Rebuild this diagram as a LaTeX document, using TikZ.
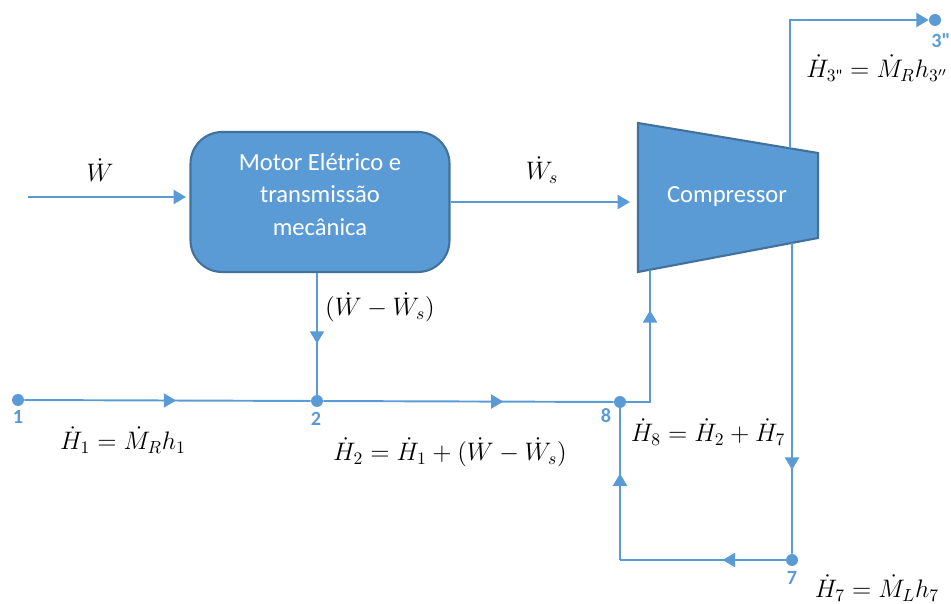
\documentclass[tikz,border=0pt]{standalone}
\usepackage{amsmath}
\usepackage{fontspec}
\setsansfont{Carlito}
\usetikzlibrary{arrows.meta, calc, decorations.markings}

\definecolor{flowblue}{HTML}{5B9BD5}
\definecolor{edgeblue}{HTML}{41719C}

\tikzset{
  flow/.style={flowblue, line width=1.1pt},
  midtip/.style={postaction={decorate}, decoration={markings,
      mark=at position #1 with {\arrow{Triangle[width=8pt,length=7pt]}}}},
  state/.style={circle, fill=flowblue, inner sep=0pt, minimum size=2.4mm},
  statelbl/.style={text=flowblue, font=\sffamily\bfseries\fontsize{11.5}{13}\selectfont},
  eqlbl/.style={font=\fontsize{13.6}{16}\selectfont},
  unit/.style={fill=flowblue, draw=edgeblue, line width=1.2pt},
  unittext/.style={text=white, align=center, font=\sffamily\fontsize{14}{18.5}\selectfont},
}

\begin{document}
\begin{tikzpicture}[x=0.02cm, y=-0.02cm, >={Triangle[width=8pt,length=7pt]}]
    \useasboundingbox (0,0) rectangle (951,604);

    % motor and compressor
    \node[unit, unittext, rounded corners=18pt, minimum width=5.18cm, minimum height=2.8cm, text depth=0.32cm] (motor) at (320,202) {Motor Elétrico e\\transmissão\\mecânica};
    \coordinate (c1) at (638,123);
    \coordinate (c2) at (818,153);
    \coordinate (c3) at (818,238);
    \coordinate (c4) at (638,272);
    \filldraw[unit] (c1) -- (c2) -- (c3) -- (c4) -- cycle;
    \node[unittext] (comp) at (727,197) {Compressor};

    % state points
    \node[state] (p1) at (18,400) {};
    \node[state] (p2) at (317,401) {};
    \node[state] (p8) at (620,402) {};
    \node[state] (p7) at (792,560) {};
    \node[state] (p3) at (935,20) {};
    \node[statelbl] (n1) at (18,417) {1};
    \node[statelbl] (n2) at (316,419) {2};
    \node[statelbl] (n8) at (606,416) {8};
    \node[statelbl] (n7) at (792,578) {7};
    \node[statelbl] (n3) at (941,41) {3\textquotedbl};

    \coordinate (win) at (28,197);
    \coordinate (wsend) at (630,202);
    \coordinate (outtop) at ($(c1)!0.844!(c2)$);
    \coordinate (outcorner) at (outtop |- p3);
    \coordinate (retbot) at ($(c4)!0.856!(c3)$);
    \coordinate (inbot) at ($(c4)!0.067!(c3)$);
    \coordinate (k8) at (inbot |- p8);
    \coordinate (k7) at (p8 |- p7);
    \coordinate (mbot) at (p2 |- motor.south);

    % power
    \draw[flow, ->, shorten >=2pt] (win) -- (motor.west |- win);
    \draw[flow, ->] (motor.east) -- (wsend);
    \draw[flow, midtip=0.58] (mbot) -- (p2);

    % refrigerant
    \draw[flow, midtip=0.53] (p1) -- (p2);
    \draw[flow, midtip=0.62] (p2) -- (p8);
    \draw[flow, midtip=0.74] (p8) -- (k8) -- (inbot);
    \draw[flow, ->] (outtop) -- (outcorner) -- (p3);
    \draw[flow, midtip=0.73] (retbot) -- (p7);
    \draw[flow, midtip=0.38] (p7) -- (k7);
    \draw[flow, midtip=0.57] (k7) -- (p8);

    % balances
    \node[eqlbl] (lw) at (100,170) {$\dot{W}$};
    \node[eqlbl] (lws) at (542,170) {$\dot{W}_s$};
    \node[eqlbl] (ldiff) at (380,307) {$(\dot{W} - \dot{W}_s)$};
    \node[eqlbl] (lh1) at (123,440) {$\dot{H}_1 = \dot{M}_R h_1$};
    \node[eqlbl] (lh2) at (450,452) {$\dot{H}_2 = \dot{H}_1 + (\dot{W} - \dot{W}_s)$};
    \node[eqlbl] (lh8) at (708,432) {$\dot{H}_8 = \dot{H}_2 + \dot{H}_7$};
    \node[eqlbl] (lh7) at (877,588) {$\dot{H}_7 = \dot{M}_L h_7$};
    \node[eqlbl] (lh3) at (877,68) {$\dot{H}_{3\text{\sffamily\textquotedbl}} = \dot{M}_R h_{3''}$};
\end{tikzpicture}
\end{document}
